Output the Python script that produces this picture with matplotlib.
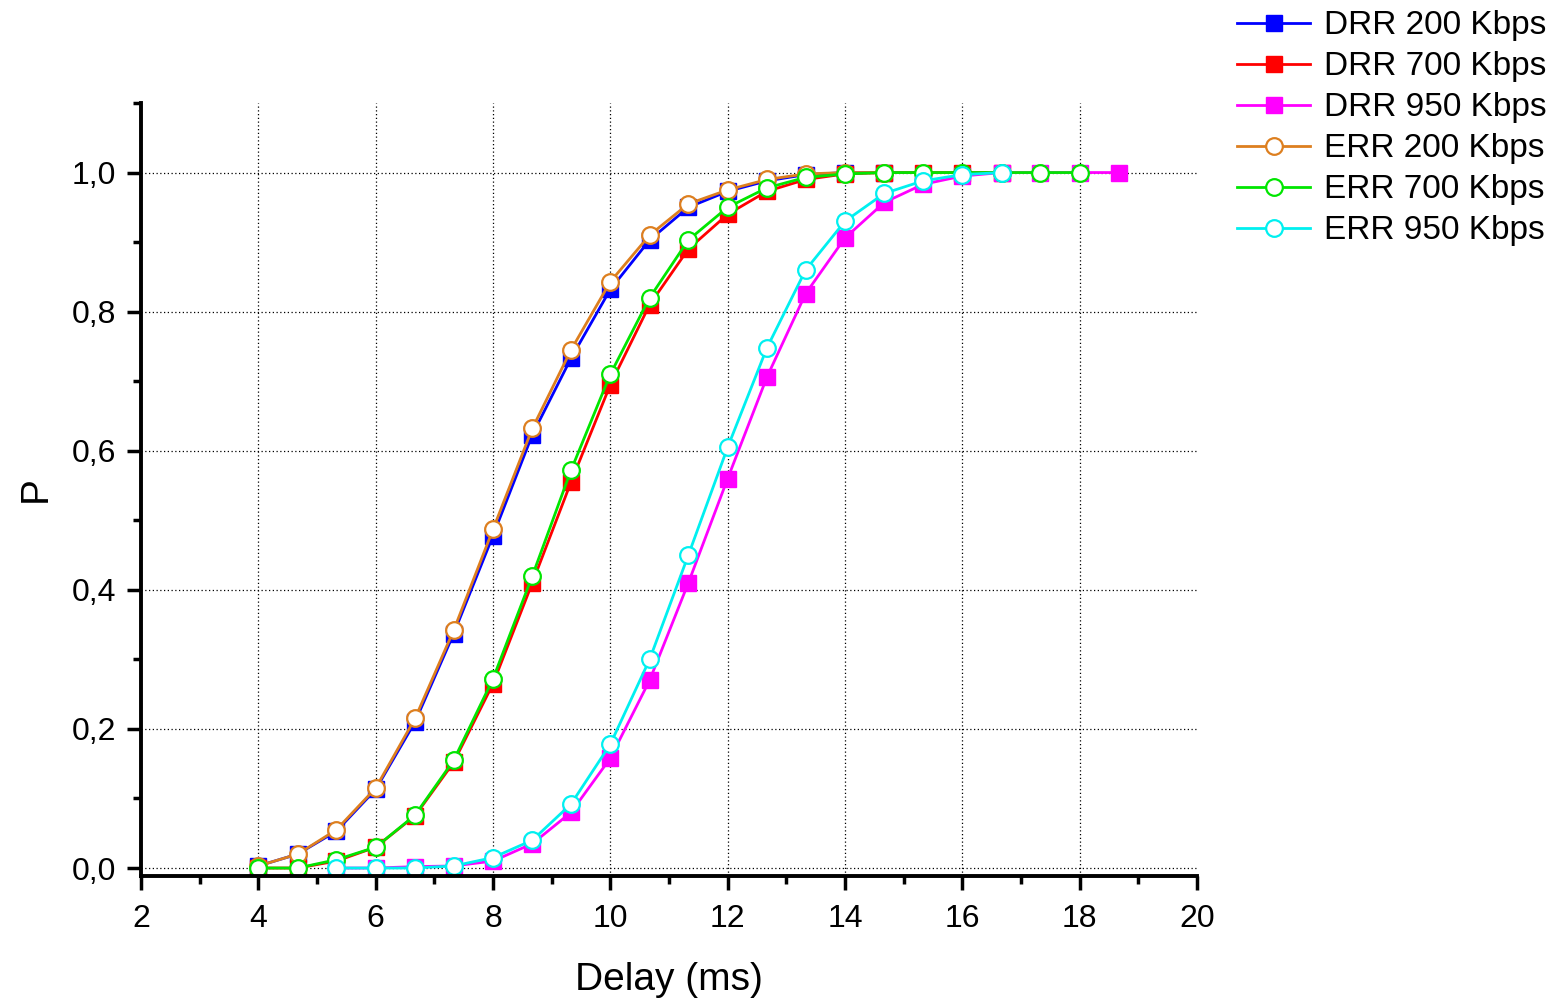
import matplotlib.pyplot as plt
from matplotlib.ticker import MultipleLocator, FuncFormatter

plt.rcParams['font.family'] = ['Liberation Sans', 'DejaVu Sans']

# delay values (ms)
delay = [4.0, 4.67, 5.33, 6.0, 6.67, 7.33, 8.0, 8.67, 9.33, 10.0, 10.67, 11.33,
         12.0, 12.67, 13.33, 14.0, 14.67, 15.33, 16.0, 16.67, 17.33, 18.0, 18.67]

# cumulative probability per scheduler / rate
drr_200 = [0.003, 0.020, 0.053, 0.113, 0.210, 0.337, 0.478, 0.623, 0.733, 0.832,
           0.903, 0.950, 0.973, 0.988, 0.997, 1.0, 1.0]
drr_700 = [0.0, 0.0, 0.010, 0.030, 0.075, 0.152, 0.265, 0.410, 0.555, 0.695,
           0.810, 0.890, 0.940, 0.973, 0.990, 0.998, 1.0, 1.0, 1.0, 1.0]
drr_950 = [0.0, 0.0, 0.002, 0.003, 0.010, 0.035, 0.080, 0.158, 0.270, 0.410,
           0.560, 0.706, 0.826, 0.906, 0.957, 0.983, 0.995, 1.0, 1.0, 1.0, 1.0]
err_200 = [0.003, 0.020, 0.055, 0.115, 0.215, 0.342, 0.487, 0.632, 0.745, 0.843,
           0.910, 0.955, 0.975, 0.990, 0.998, 1.0, 1.0]
err_700 = [0.0, 0.0, 0.012, 0.030, 0.076, 0.155, 0.272, 0.420, 0.572, 0.710,
           0.820, 0.903, 0.950, 0.978, 0.993, 0.998, 1.0, 1.0, 1.0, 1.0, 1.0, 1.0]
err_950 = [0.0, 0.0, 0.0, 0.003, 0.015, 0.040, 0.092, 0.178, 0.300, 0.450,
           0.605, 0.748, 0.860, 0.930, 0.970, 0.988, 0.997, 1.0]

series = [
    ("DRR 200 Kbps", delay[:len(drr_200)], drr_200, '#0000FF', 's'),
    ("DRR 700 Kbps", delay[:len(drr_700)], drr_700, '#FF0000', 's'),
    ("DRR 950 Kbps", delay[2:2 + len(drr_950)], drr_950, '#FF00FF', 's'),
    ("ERR 200 Kbps", delay[:len(err_200)], err_200, '#DD7F1F', 'o'),
    ("ERR 700 Kbps", delay[:len(err_700)], err_700, '#00E600', 'o'),
    ("ERR 950 Kbps", delay[2:2 + len(err_950)], err_950, '#00F0F0', 'o'),
]

fig = plt.figure(figsize=(15.62, 9.99), dpi=100)
ax = fig.add_axes([0.0903, 0.1231, 0.6760, 0.7738])

for label, xs, ys, color, marker in series:
    if marker == 's':
        ax.plot(xs, ys, color=color, lw=2.0, marker='s', ms=11,
                mfc=color, mec=color, label=label, clip_on=False)
    else:
        ax.plot(xs, ys, color=color, lw=2.0, marker='o', ms=12,
                mfc='white', mec=color, mew=1.6, label=label, clip_on=False)

ax.set_xlim(2, 20)
ax.set_ylim(-0.0115, 1.1)
ax.set_xticks(range(2, 21, 2))
ax.xaxis.set_minor_locator(MultipleLocator(1))
ax.set_yticks([0.0, 0.2, 0.4, 0.6, 0.8, 1.0])
ax.set_yticks([0.1, 0.3, 0.5, 0.7, 0.9, 1.1], minor=True)
ax.yaxis.set_major_formatter(FuncFormatter(lambda v, p: f"{v:.1f}".replace('.', ',')))

ax.tick_params(which='major', direction='out', length=10, width=2.5, labelsize=23, pad=8)
ax.tick_params(axis='x', which='major', pad=10)
ax.tick_params(which='minor', direction='out', length=6, width=2.5)

for side in ('top', 'right'):
    ax.spines[side].set_visible(False)
for side in ('left', 'bottom'):
    ax.spines[side].set_linewidth(2.8)

ax.grid(True, which='major', color='black', linestyle=(0, (1, 2)), linewidth=0.9)
ax.set_axisbelow(True)
# no vertical grid line at the right end of the x range
ax.xaxis.get_gridlines()[-1].set_visible(False)

ax.set_xlabel("Delay (ms)", fontsize=28, labelpad=20)
ax.set_ylabel("P", fontsize=28, labelpad=13)

fig.legend(loc='upper right', bbox_to_anchor=(0.9985, 1.003), frameon=False,
           fontsize=24, handlelength=2.2, handletextpad=0.4, labelspacing=0.3,
           borderaxespad=0.0)

fig.savefig("out.png", dpi=100, facecolor='white')
